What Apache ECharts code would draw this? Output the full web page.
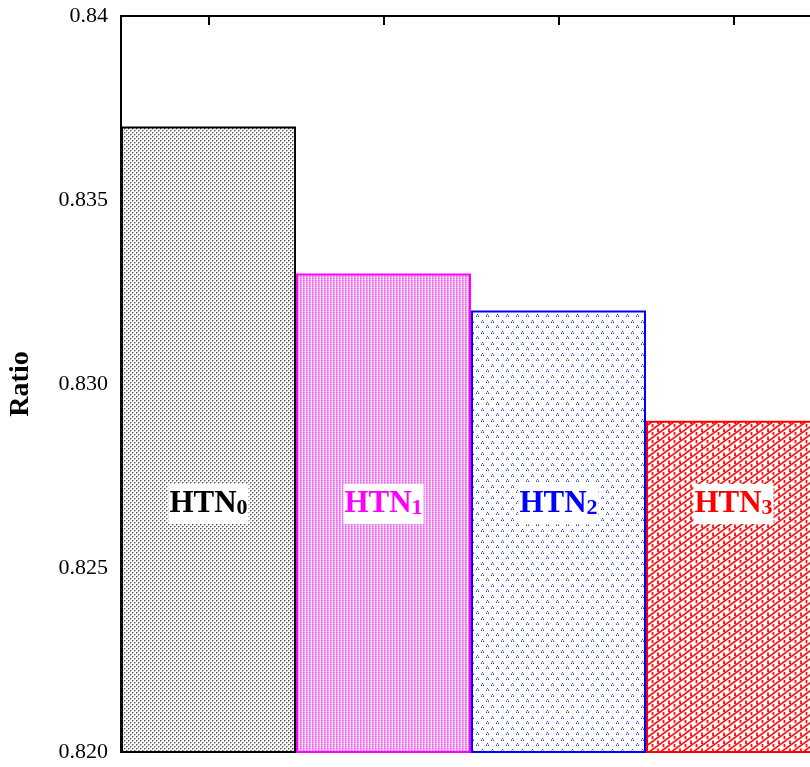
<!DOCTYPE html>
<html>
<head>
<meta charset="utf-8">
<script src="https://cdn.jsdelivr.net/npm/echarts@6/dist/echarts.min.js"></script>
<style>
  html, body { margin: 0; padding: 0; background: #fff; }
  #chart { width: 810px; height: 767px; }
</style>
</head>
<body>
<div id="chart"></div>
<script>
// Network variants and their ratios
const categories = ['HTN0', 'HTN1', 'HTN2', 'HTN3'];
const subscripts = ['0', '1', '2', '3'];
const ratios = [0.837, 0.833, 0.832, 0.829];
const yTickLabels = ['0.820', '0.825', '0.830', '0.835', '0.84'];
const colors = ['#000000', '#ff00ff', '#0000ff', '#ff0000'];

// Small repeating tiles used as bar fills
function tile(w, h, draw) {
  const c = document.createElement('canvas');
  c.width = w; c.height = h;
  const ctx = c.getContext('2d');
  ctx.fillStyle = '#ffffff';
  ctx.fillRect(0, 0, w, h);
  draw(ctx);
  return c;
}
function px(ctx, x, y, col) { ctx.fillStyle = col; ctx.fillRect(x, y, 1, 1); }

const dotsGray = tile(4, 4, ctx => {
  px(ctx, 0, 0, '#555'); px(ctx, 1, 0, '#aaa'); px(ctx, 0, 1, '#aaa');
  px(ctx, 2, 2, '#555'); px(ctx, 3, 2, '#aaa'); px(ctx, 2, 3, '#aaa');
});
const meshPink = tile(3, 2, ctx => {
  px(ctx, 0, 0, '#f060f0'); px(ctx, 1, 0, '#f490f4'); px(ctx, 2, 0, '#fcd0fc');
  px(ctx, 0, 1, '#f490f4'); px(ctx, 1, 1, '#f8b0f8'); px(ctx, 2, 1, '#ffffff');
});
const chevBlue = tile(10, 11, ctx => {
  const dark = '#3040ff', light = '#9aa2ff';
  [[1, 1], [6, 6]].forEach(([x, y]) => {
    px(ctx, x + 1, y, dark);
    px(ctx, x, y + 1, light); px(ctx, x + 2, y + 1, light);
    px(ctx, x, y + 2, dark); px(ctx, x + 2, y + 2, dark);
  });
});
const latticeRed = tile(11, 8, ctx => {
  ctx.strokeStyle = '#ff1010';
  ctx.lineWidth = 1.8;
  ctx.beginPath();
  ctx.moveTo(-11, 16); ctx.lineTo(22, -8);
  ctx.moveTo(-11, 8); ctx.lineTo(11, -8);
  ctx.moveTo(0, 16); ctx.lineTo(22, 0);
  ctx.moveTo(3.5, 0); ctx.lineTo(3.5, 3.2);
  ctx.moveTo(9, 4.5); ctx.lineTo(9, 8);
  ctx.stroke();
});
const fills = [dotsGray, meshPink, chevBlue, latticeRed];

const serif = '"Liberation Serif", "Times New Roman", serif';

const barData = ratios.map((v, i) => ({
  value: v,
  itemStyle: {
    color: { image: fills[i], repeat: 'repeat' },
    borderColor: colors[i],
    borderWidth: 2
  },
  label: {
    rich: {
      a: { fontFamily: serif, fontWeight: 'bold', fontSize: 31, color: colors[i], lineHeight: 30, verticalAlign: 'bottom' },
      b: { fontFamily: serif, fontWeight: 'bold', fontSize: 22, color: colors[i], lineHeight: 24, verticalAlign: 'bottom' }
    }
  }
}));

const chart = echarts.init(document.getElementById('chart'), null, { renderer: 'canvas' });
chart.setOption({
  animation: false,
  grid: { left: 121, top: 16, width: 700, height: 736, containLabel: false, outerBoundsMode: 'none' },
  xAxis: [
    {
      type: 'category', data: categories, position: 'bottom',
      axisLine: { show: true, lineStyle: { color: '#000', width: 2 } },
      axisTick: { show: false }, axisLabel: { show: false }, splitLine: { show: false }
    },
    {
      type: 'category', data: categories, position: 'top',
      axisLine: { show: true, lineStyle: { color: '#000', width: 2 } },
      axisTick: { show: true, inside: true, length: 9, alignWithLabel: true, lineStyle: { color: '#000', width: 2 } },
      axisLabel: { show: false }, splitLine: { show: false }
    }
  ],
  yAxis: {
    type: 'value', min: 0.82, max: 0.84, interval: 0.005,
    name: 'Ratio', nameLocation: 'middle', nameGap: 86, nameRotate: 90,
    nameTextStyle: { fontFamily: serif, fontWeight: 'bold', fontSize: 28, color: '#000' },
    axisLine: { show: true, lineStyle: { color: '#000', width: 2 } },
    axisTick: { show: true, inside: true, length: 9, lineStyle: { color: '#000', width: 2 } },
    axisLabel: {
      fontFamily: serif, fontSize: 22, color: '#000', margin: 13,
      formatter: v => yTickLabels[Math.round((v - 0.82) / 0.005)]
    },
    splitLine: { show: false }
  },
  series: [{
    type: 'bar',
    xAxisIndex: 0,
    data: barData,
    barWidth: '100%',
    barCategoryGap: 0,
    label: {
      show: true,
      position: 'insideBottom',
      distance: 229,
      backgroundColor: '#ffffff',
      padding: [5, 1, 5, 1],
      formatter: p => '{a|HTN}{b|' + subscripts[p.dataIndex] + '}'
    }
  }]
});
</script>
</body>
</html>
